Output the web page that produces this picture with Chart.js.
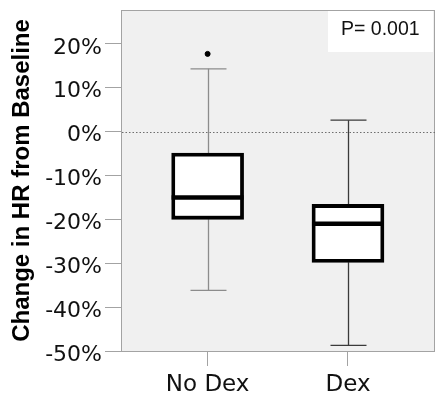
<!DOCTYPE html>
<html>
<head>
<meta charset="utf-8">
<script src="https://cdn.jsdelivr.net/npm/chart.js@4/dist/chart.umd.min.js"></script>
<style>
  html, body { margin: 0; padding: 0; background: #ffffff; }
  #wrap { width: 436px; height: 394px; }
</style>
</head>
<body>
<div id="wrap"><canvas id="c" width="436" height="394"></canvas></div>
<script>
// ---- data (values in percent) ----
const categories = ["No Dex", "Dex"];
const whiskerMax = [14.3, 2.6];
const q3 = [-4.9, -16.6];
const medians = [-15.0, -21.0];
const q1 = [-20.0, -29.8];
const whiskerMin = [-36.2, -48.7];
const outliers = [[17.7], []];
const yTicks = [-50, -40, -30, -20, -10, 0, 10, 20];
const pLabel = "P= 0.001";

const whiskerColors = ["#8c8c8c", "#3a3a3a"];

const boxData = categories.map((c, i) => ({ x: i, y: [q1[i], q3[i]] }));
const outlierData = [];
outliers.forEach((arr, i) => arr.forEach(v => outlierData.push({ x: i, y: v })));

const boxPlugin = {
  id: 'boxParts',
  beforeDraw(chart) {
    const { ctx, chartArea: a } = chart;
    ctx.save();
    ctx.fillStyle = '#f0f0f0';
    ctx.fillRect(a.left, a.top, a.right - a.left, a.bottom - a.top);
    ctx.restore();
  },
  beforeDatasetsDraw(chart) {
    const { ctx, chartArea: a, scales: { x, y } } = chart;
    ctx.save();
    // border
    ctx.strokeStyle = '#a3a3a3';
    ctx.lineWidth = 1;
    ctx.strokeRect(a.left - 0.5, a.top + 0.5, a.right - a.left, a.bottom - a.top);
    // zero reference line
    const y0 = Math.round(y.getPixelForValue(0)) + 0.5;
    ctx.strokeStyle = '#6e6e6e';
    ctx.setLineDash([1.5, 2]);
    ctx.beginPath();
    ctx.moveTo(a.left, y0);
    ctx.lineTo(a.right, y0);
    ctx.stroke();
    ctx.setLineDash([]);
    // whiskers + caps
    const meta = chart.getDatasetMeta(0);
    categories.forEach((c, i) => {
      const bar = meta.data[i];
      const cx = Math.round(x.getPixelForValue(i)) + 0.5;
      const half = bar.width / 4;
      ctx.strokeStyle = whiskerColors[i];
      ctx.lineWidth = 1.3;
      ctx.beginPath();
      ctx.moveTo(cx, y.getPixelForValue(q3[i]));
      ctx.lineTo(cx, y.getPixelForValue(whiskerMax[i]));
      ctx.moveTo(cx, y.getPixelForValue(q1[i]));
      ctx.lineTo(cx, y.getPixelForValue(whiskerMin[i]));
      ctx.stroke();
      ctx.beginPath();
      ctx.moveTo(cx - half, y.getPixelForValue(whiskerMax[i]));
      ctx.lineTo(cx + half, y.getPixelForValue(whiskerMax[i]));
      ctx.moveTo(cx - half, y.getPixelForValue(whiskerMin[i]));
      ctx.lineTo(cx + half, y.getPixelForValue(whiskerMin[i]));
      ctx.stroke();
    });
    ctx.restore();
  },
  afterDatasetsDraw(chart) {
    const { ctx, scales: { y } } = chart;
    const meta = chart.getDatasetMeta(0);
    ctx.save();
    ctx.strokeStyle = '#000000';
    ctx.lineWidth = 4.5;
    categories.forEach((c, i) => {
      const bar = meta.data[i];
      const ym = y.getPixelForValue(medians[i]);
      ctx.beginPath();
      ctx.moveTo(bar.x - bar.width / 2, ym);
      ctx.lineTo(bar.x + bar.width / 2, ym);
      ctx.stroke();
    });
    ctx.restore();
  },
  afterDraw(chart) {
    const { ctx, chartArea: a } = chart;
    ctx.save();
    ctx.fillStyle = '#ffffff';
    ctx.fillRect(a.right - 107, a.top + 1, 105, 41);
    ctx.fillStyle = '#111111';
    ctx.font = '19.5px "Liberation Sans", Arial, sans-serif';
    ctx.textAlign = 'left';
    ctx.textBaseline = 'middle';
    ctx.fillText(pLabel, a.right - 94, a.top + 20);
    ctx.restore();
  }
};

new Chart(document.getElementById('c'), {
  type: 'bar',
  data: {
    datasets: [
      {
        type: 'bar',
        data: boxData,
        backgroundColor: '#ffffff',
        borderColor: '#000000',
        borderWidth: 3.8,
        borderSkipped: false,
        barThickness: 72,
        order: 2
      },
      {
        type: 'scatter',
        data: outlierData,
        backgroundColor: '#000000',
        borderColor: '#000000',
        pointRadius: 2.5,
        order: 1
      }
    ]
  },
  options: {
    responsive: false,
    animation: false,
    devicePixelRatio: 1,
    layout: { autoPadding: false, padding: { top: 10, right: 1, left: 0, bottom: 0 } },
    plugins: { legend: { display: false }, tooltip: { enabled: false } },
    scales: {
      x: {
        type: 'linear',
        offset: false,
        min: -0.61,
        max: 1.62,
        afterBuildTicks(scale) { scale.ticks = categories.map((c, i) => ({ value: i })); },
        afterFit(scale) { scale.height = 43; scale.paddingLeft = 0; scale.paddingRight = 0; },
        grid: { offset: false, drawOnChartArea: false, tickLength: 15, color: '#a3a3a3', lineWidth: 1 },
        border: { display: false },
        ticks: {
          callback: (v) => categories[v],
          font: { family: '"DejaVu Sans"', size: 23 },
          color: '#111111',
          padding: 5,
          maxRotation: 0,
          autoSkip: false
        }
      },
      y: {
        type: 'linear',
        min: -50,
        max: 27.7,
        afterBuildTicks(scale) { scale.ticks = yTicks.map(v => ({ value: v })); },
        afterFit(scale) { scale.width = 122; scale.paddingTop = 0; scale.paddingBottom = 0; },
        grid: { drawOnChartArea: false, tickLength: 17, color: '#a3a3a3', lineWidth: 1 },
        border: { display: false },
        ticks: {
          callback: (v) => v + '%',
          font: { family: '"DejaVu Sans"', size: 22 },
          color: '#111111',
          padding: 3,
          labelOffset: 4
        },
        title: {
          display: true,
          text: 'Change in HR from Baseline',
          font: { family: '"Liberation Sans", Arial, sans-serif', size: 24, weight: 'bold', lineHeight: 1 },
          color: '#000000',
          padding: { top: 10, bottom: 0 }
        }
      }
    }
  },
  plugins: [boxPlugin]
});
</script>
</body>
</html>
